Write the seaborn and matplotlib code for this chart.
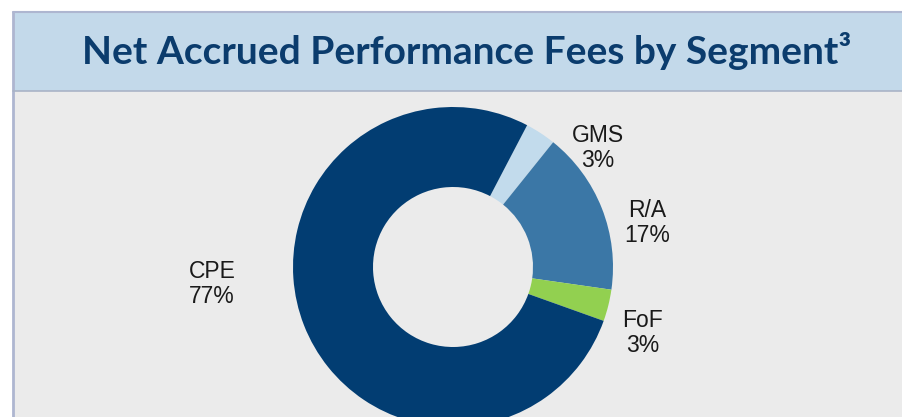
import matplotlib
matplotlib.use("Agg")
import matplotlib.pyplot as plt
from matplotlib.patches import Rectangle
from matplotlib.lines import Line2D
import seaborn as sns

# ---- data ----
segments = ["GMS", "R/A", "FoF", "CPE"]
shares = [3.1, 16.5, 3.2, 77.2]
pct_labels = ["3%", "17%", "3%", "77%"]
seg_colors = ["#c2dbec", "#3b77a6", "#92d050", "#023d72"]
title = "Net Accrued Performance Fees by Segment\u00b3"

sns.set_style("white")
plt.rcParams["font.family"] = ["Liberation Sans", "DejaVu Sans"]

W, H = 902, 417
fig = plt.figure(figsize=(W / 100, H / 100), dpi=100)
fig.patch.set_facecolor("white")

def fx(px):
    return px / W

def fy(py):
    return 1 - py / H

# panel background and header band
panel_left, panel_top, header_bottom = 13, 12, 91
fig.patches.append(Rectangle((fx(panel_left), 0), 1 - fx(panel_left), fy(panel_top),
                             transform=fig.transFigure, facecolor="#ebebeb", edgecolor="none", zorder=-2))
fig.patches.append(Rectangle((fx(panel_left), fy(header_bottom)), 1 - fx(panel_left),
                             fy(panel_top) - fy(header_bottom),
                             transform=fig.transFigure, facecolor="#c3d9ea", edgecolor="none", zorder=-2))
border = "#aeb6d0"
fig.lines.append(Line2D([fx(panel_left), 1], [fy(panel_top), fy(panel_top)], transform=fig.transFigure,
                        color=border, lw=1.5, zorder=-1))
fig.lines.append(Line2D([fx(panel_left), fx(panel_left)], [0, fy(panel_top)], transform=fig.transFigure,
                        color=border, lw=2, zorder=-1))
fig.lines.append(Line2D([fx(panel_left), 1], [fy(header_bottom), fy(header_bottom)], transform=fig.transFigure,
                        color="#a9b3c6", lw=1.2, zorder=-1))

fig.text(fx(467), fy(51), title, ha="center", va="center", fontsize=28, fontweight="bold",
         color="#0b3c6d", family=["Lato", "DejaVu Sans"])

# donut
cx, cy, R = 453, 267, 161
half = 200
ax = fig.add_axes([fx(cx - half), fy(cy + half), 2 * half / W, 2 * half / H])
ax.set_zorder(1)
ax.set_facecolor("none")
ax.patch.set_visible(False)
lim = half / R
ax.set_xlim(-lim, lim)
ax.set_ylim(-lim, lim)
ax.set_aspect("equal")
ax.axis("off")
ax.pie(shares, colors=seg_colors, startangle=62.4, counterclock=False, radius=1,
       wedgeprops=dict(width=0.5, edgecolor="none"))

label_px = {"GMS": (598, 148), "R/A": (647, 223), "FoF": (643, 333), "CPE": (212, 284)}
for seg, pct in zip(segments, pct_labels):
    px, py = label_px[seg]
    fig.text(fx(px), fy(py), f"{seg}\n{pct}", ha="center", va="center", fontsize=16.5,
             color="#1a1a1a", linespacing=1.08, zorder=3)

fig.savefig("out.png", dpi=100)
